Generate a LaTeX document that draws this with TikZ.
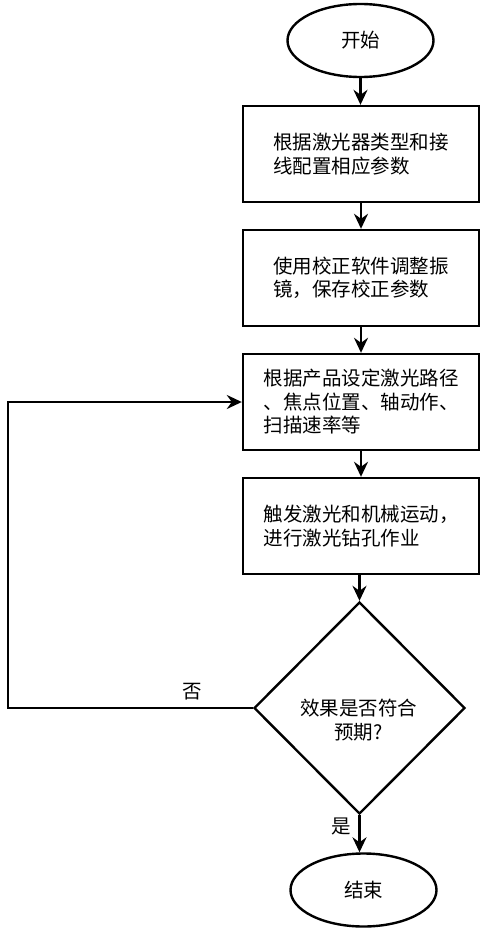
\documentclass[tikz,border=0pt]{standalone}
\usepackage{fontspec}
\setmainfont{Noto Sans CJK SC}
\usetikzlibrary{shapes.geometric,arrows.meta}
\begin{document}
\begin{tikzpicture}[x=1pt,y=-1pt,
  every node/.style={font=\fontsize{19.5}{23.5}\selectfont, text=black},
  term/.style={draw=black, line width=2.4pt, ellipse, minimum width=146pt, minimum height=73pt, inner sep=0pt},
  procbox/.style={draw=black, line width=2.4pt, rectangle, minimum width=236pt, minimum height=96pt, align=left, inner sep=0pt},
  decbox/.style={draw=black, line width=2.4pt, diamond, minimum width=211pt, minimum height=212pt, inner sep=0pt},
  lbl/.style={align=center, inner sep=0pt},
  arr/.style={line width=2.4pt, -{Stealth[length=15pt,width=14pt,inset=5pt]}},
  ln/.style={line width=2.4pt}
]
\useasboundingbox (0,0) rectangle (488,934);
\node[term] (start) at (360.5,40.5) {开始};
\node[procbox] (b1) at (361,154) {根据激光器类型和接\\线配置相应参数};
\node[procbox] (b2) at (361,278) {使用校正软件调整振\\镜，保存校正参数};
\node[procbox] (b3) at (361,402) {根据产品设定激光路径\\、焦点位置、轴动作、\\扫描速率等};
\node[procbox] (b4) at (361,526) {触发激光和机械运动，\\进行激光钻孔作业};
\node[decbox] (dec) at (359.5,708) {};
\node[lbl] (dectext) at (358.5,720) {效果是否符合\\预期?};
\node[term] (end) at (363.5,890) {结束};
\coordinate (loopc) at (8,402);
\node[lbl] (no) at (192,692) {否};
\node[lbl] (yes) at (341,826) {是};

\draw[arr] (start.south) -- (start.south |- b1.north);
\draw[arr] (b1) -- (b2);
\draw[arr] (b2) -- (b3);
\draw[arr] (b3) -- (b4);
\draw[arr] (b4.south) -- (b4.south -| dec.north) -- (dec.north);
\draw[arr] (dec.south) -- (dec.south |- end.north);
\draw[arr] (dec.west) -- (loopc |- dec.west) -- (loopc) -- (b3.west);
\end{tikzpicture}
\end{document}
